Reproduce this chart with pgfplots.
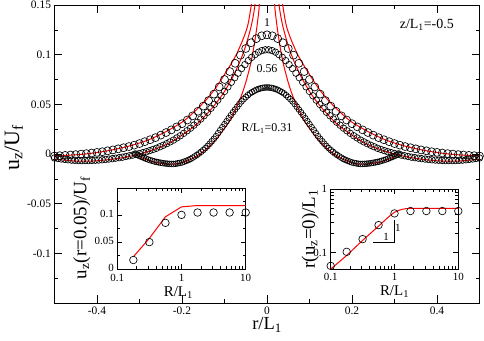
\documentclass[border=0pt]{standalone}
\usepackage{fontspec}
\setmainfont{Liberation Serif}
\usepackage{pgfplots}
\pgfplotsset{compat=1.18}

\pgfplotsset{
  common/.style={scale only axis, tick align=inside, tick pos=both,
    axis line style={line width=0.8pt}, tick style={line width=0.6pt, black},
    /pgf/number format/assume math mode=true, /pgf/number format/fixed,
    /pgf/number format/precision=3, scaled ticks=false},
  circ/.style={black, only marks, mark=o, mark options={line width=0.65pt}},
  theory/.style={red, line width=1pt, no marks},
}

\begin{document}
\begin{tikzpicture}
\useasboundingbox (-54.5bp,-38bp) rectangle (429.5bp,303bp);
% main panel
\begin{axis}[common, at={(0,0)}, anchor=south west, width=425bp, height=298bp,
  xmin=-0.5, xmax=0.5, ymin=-0.15, ymax=0.15,
  xtick={-0.4,-0.2,0,0.2,0.4}, minor xtick={-0.3,-0.1,0.1,0.3},
  ytick={-0.1,-0.05,0,0.05,0.1,0.15}, minor ytick={-0.125,-0.075,-0.025,0.025,0.075,0.125},
  major tick length=8bp, minor tick length=4bp,
  tick label style={font=\fontsize{11.5}{13}\selectfont},
  xlabel={r/L\textsubscript{1}}, ylabel={u\textsubscript{z}/U\textsubscript{f}},
  label style={inner sep=0pt},
  xlabel style={font=\fontsize{18.5}{20}\selectfont, at={(axis description cs:0.5,-0.09)}, anchor=base},
  ylabel style={font=\fontsize{22}{24}\selectfont, at={(axis description cs:-0.083,0.52)}, anchor=base},
]
% R/L1 = 1
\addplot[circ, mark size=4pt] table {
-0.5000 -0.0020
-0.4875 -0.0017
-0.4750 -0.0014
-0.4625 -0.0010
-0.4500 -0.0006
-0.4375 -0.0001
-0.4250 0.0004
-0.4125 0.0010
-0.4000 0.0016
-0.3875 0.0023
-0.3750 0.0032
-0.3625 0.0041
-0.3500 0.0052
-0.3375 0.0063
-0.3250 0.0075
-0.3125 0.0089
-0.3000 0.0105
-0.2875 0.0124
-0.2750 0.0144
-0.2625 0.0165
-0.2500 0.0190
-0.2375 0.0216
-0.2250 0.0243
-0.2125 0.0273
-0.2000 0.0305
-0.1875 0.0342
-0.1750 0.0384
-0.1625 0.0430
-0.1500 0.0482
-0.1375 0.0538
-0.1250 0.0603
-0.1125 0.0675
-0.1000 0.0750
-0.0875 0.0830
-0.0750 0.0913
-0.0625 0.0995
-0.0500 0.1062
-0.0375 0.1120
-0.0250 0.1162
-0.0125 0.1190
0.0000 0.1200
0.0125 0.1190
0.0250 0.1162
0.0375 0.1120
0.0500 0.1062
0.0625 0.0995
0.0750 0.0913
0.0875 0.0830
0.1000 0.0750
0.1125 0.0675
0.1250 0.0603
0.1375 0.0538
0.1500 0.0482
0.1625 0.0430
0.1750 0.0384
0.1875 0.0342
0.2000 0.0305
0.2125 0.0273
0.2250 0.0243
0.2375 0.0216
0.2500 0.0190
0.2625 0.0165
0.2750 0.0144
0.2875 0.0124
0.3000 0.0105
0.3125 0.0089
0.3250 0.0075
0.3375 0.0063
0.3500 0.0052
0.3625 0.0041
0.3750 0.0032
0.3875 0.0023
0.4000 0.0016
0.4125 0.0010
0.4250 0.0004
0.4375 -0.0001
0.4500 -0.0006
0.4625 -0.0010
0.4750 -0.0014
0.4875 -0.0017
0.5000 -0.0020
};
% R/L1 = 0.56
\addplot[circ, mark size=3.3pt] table {
-0.500 -0.0040
-0.492 -0.0045
-0.484 -0.0050
-0.476 -0.0054
-0.468 -0.0058
-0.460 -0.0062
-0.452 -0.0064
-0.444 -0.0066
-0.436 -0.0066
-0.428 -0.0066
-0.420 -0.0066
-0.412 -0.0065
-0.404 -0.0063
-0.396 -0.0061
-0.388 -0.0058
-0.380 -0.0055
-0.372 -0.0051
-0.364 -0.0047
-0.356 -0.0042
-0.348 -0.0037
-0.340 -0.0032
-0.332 -0.0025
-0.324 -0.0018
-0.316 -0.0011
-0.308 -0.0003
-0.300 0.0005
-0.292 0.0014
-0.284 0.0023
-0.276 0.0034
-0.268 0.0046
-0.260 0.0058
-0.252 0.0073
-0.244 0.0088
-0.236 0.0104
-0.228 0.0122
-0.220 0.0140
-0.212 0.0162
-0.204 0.0184
-0.196 0.0208
-0.188 0.0234
-0.180 0.0260
-0.172 0.0290
-0.164 0.0320
-0.156 0.0352
-0.148 0.0386
-0.140 0.0420
-0.132 0.0460
-0.124 0.0500
-0.116 0.0542
-0.108 0.0586
-0.100 0.0630
-0.092 0.0676
-0.084 0.0722
-0.076 0.0768
-0.068 0.0814
-0.060 0.0860
-0.052 0.0900
-0.044 0.0940
-0.036 0.0973
-0.028 0.1001
-0.020 0.1025
-0.012 0.1041
-0.004 0.1049
0.004 0.1049
0.012 0.1041
0.020 0.1025
0.028 0.1001
0.036 0.0973
0.044 0.0940
0.052 0.0900
0.060 0.0860
0.068 0.0814
0.076 0.0768
0.084 0.0722
0.092 0.0676
0.100 0.0630
0.108 0.0586
0.116 0.0542
0.124 0.0500
0.132 0.0460
0.140 0.0420
0.148 0.0386
0.156 0.0352
0.164 0.0320
0.172 0.0290
0.180 0.0260
0.188 0.0234
0.196 0.0208
0.204 0.0184
0.212 0.0162
0.220 0.0140
0.228 0.0122
0.236 0.0104
0.244 0.0088
0.252 0.0073
0.260 0.0058
0.268 0.0046
0.276 0.0034
0.284 0.0023
0.292 0.0014
0.300 0.0005
0.308 -0.0003
0.316 -0.0011
0.324 -0.0018
0.332 -0.0025
0.340 -0.0032
0.348 -0.0037
0.356 -0.0042
0.364 -0.0047
0.372 -0.0051
0.380 -0.0055
0.388 -0.0058
0.396 -0.0061
0.404 -0.0063
0.412 -0.0065
0.420 -0.0066
0.428 -0.0066
0.436 -0.0066
0.444 -0.0066
0.452 -0.0064
0.460 -0.0062
0.468 -0.0058
0.476 -0.0054
0.484 -0.0050
0.492 -0.0045
0.500 -0.0040
};
% R/L1 = 0.31
\addplot[circ, mark size=2.9pt] table {
-0.310 0.0005
-0.305 -0.0008
-0.300 -0.0020
-0.295 -0.0029
-0.290 -0.0038
-0.285 -0.0047
-0.280 -0.0055
-0.275 -0.0062
-0.270 -0.0068
-0.265 -0.0075
-0.260 -0.0080
-0.255 -0.0084
-0.250 -0.0088
-0.245 -0.0092
-0.240 -0.0095
-0.235 -0.0097
-0.230 -0.0099
-0.225 -0.0100
-0.220 -0.0100
-0.215 -0.0098
-0.210 -0.0094
-0.205 -0.0090
-0.200 -0.0085
-0.195 -0.0077
-0.190 -0.0069
-0.185 -0.0060
-0.180 -0.0050
-0.175 -0.0037
-0.170 -0.0024
-0.165 -0.0010
-0.160 0.0005
-0.155 0.0022
-0.150 0.0040
-0.145 0.0059
-0.140 0.0080
-0.135 0.0103
-0.130 0.0128
-0.125 0.0153
-0.120 0.0180
-0.115 0.0210
-0.110 0.0240
-0.105 0.0270
-0.100 0.0300
-0.095 0.0330
-0.090 0.0360
-0.085 0.0390
-0.080 0.0420
-0.075 0.0448
-0.070 0.0476
-0.065 0.0504
-0.060 0.0530
-0.055 0.0552
-0.050 0.0572
-0.045 0.0592
-0.040 0.0610
-0.035 0.0623
-0.030 0.0635
-0.025 0.0646
-0.020 0.0655
-0.015 0.0661
-0.010 0.0666
-0.005 0.0669
0.000 0.0670
0.005 0.0669
0.010 0.0666
0.015 0.0661
0.020 0.0655
0.025 0.0646
0.030 0.0635
0.035 0.0623
0.040 0.0610
0.045 0.0592
0.050 0.0572
0.055 0.0552
0.060 0.0530
0.065 0.0504
0.070 0.0476
0.075 0.0448
0.080 0.0420
0.085 0.0390
0.090 0.0360
0.095 0.0330
0.100 0.0300
0.105 0.0270
0.110 0.0240
0.115 0.0210
0.120 0.0180
0.125 0.0153
0.130 0.0128
0.135 0.0103
0.140 0.0080
0.145 0.0059
0.150 0.0040
0.155 0.0022
0.160 0.0005
0.165 -0.0010
0.170 -0.0024
0.175 -0.0037
0.180 -0.0050
0.185 -0.0060
0.190 -0.0069
0.195 -0.0077
0.200 -0.0085
0.205 -0.0090
0.210 -0.0094
0.215 -0.0098
0.220 -0.0100
0.225 -0.0100
0.230 -0.0099
0.235 -0.0097
0.240 -0.0095
0.245 -0.0092
0.250 -0.0088
0.255 -0.0084
0.260 -0.0080
0.265 -0.0075
0.270 -0.0068
0.275 -0.0062
0.280 -0.0055
0.285 -0.0047
0.290 -0.0038
0.295 -0.0029
0.300 -0.0020
0.305 -0.0008
0.310 0.0005
};
% theory curves, left and right branches
\addplot[theory, smooth] coordinates {(-0.5,-0.002) (-0.44,-0.0005) (-0.4,0.0015) (-0.36,0.0045) (-0.32,0.0085) (-0.28,0.014) (-0.24,0.022) (-0.2,0.032) (-0.18,0.039) (-0.16,0.047) (-0.14,0.056) (-0.12,0.067) (-0.1,0.08) (-0.08,0.094) (-0.07,0.102) (-0.055,0.117) (-0.045,0.13) (-0.037,0.15) (-0.03,0.175)};
\addplot[theory, smooth] coordinates {(0.5,-0.002) (0.44,-0.0005) (0.4,0.0015) (0.36,0.0045) (0.32,0.0085) (0.28,0.014) (0.24,0.022) (0.2,0.032) (0.18,0.039) (0.16,0.047) (0.14,0.056) (0.12,0.067) (0.1,0.08) (0.08,0.094) (0.07,0.102) (0.055,0.117) (0.045,0.13) (0.037,0.15) (0.03,0.175)};
\addplot[theory, smooth] coordinates {(-0.5,-0.005) (-0.48,-0.006) (-0.46,-0.0068) (-0.44,-0.0072) (-0.42,-0.0072) (-0.4,-0.0068) (-0.38,-0.006) (-0.36,-0.005) (-0.34,-0.0037) (-0.32,-0.002) (-0.3,0) (-0.28,0.0025) (-0.26,0.0055) (-0.24,0.009) (-0.22,0.0135) (-0.2,0.019) (-0.18,0.025) (-0.16,0.032) (-0.14,0.041) (-0.12,0.051) (-0.1,0.063) (-0.08,0.078) (-0.07,0.087) (-0.06,0.097) (-0.05,0.109) (-0.04,0.124) (-0.035,0.133) (-0.03,0.145) (-0.025,0.162) (-0.022,0.175)};
\addplot[theory, smooth] coordinates {(0.5,-0.005) (0.48,-0.006) (0.46,-0.0068) (0.44,-0.0072) (0.42,-0.0072) (0.4,-0.0068) (0.38,-0.006) (0.36,-0.005) (0.34,-0.0037) (0.32,-0.002) (0.3,0) (0.28,0.0025) (0.26,0.0055) (0.24,0.009) (0.22,0.0135) (0.2,0.019) (0.18,0.025) (0.16,0.032) (0.14,0.041) (0.12,0.051) (0.1,0.063) (0.08,0.078) (0.07,0.087) (0.06,0.097) (0.05,0.109) (0.04,0.124) (0.035,0.133) (0.03,0.145) (0.025,0.162) (0.022,0.175)};
\addplot[theory, smooth] coordinates {(-0.31,0.0002) (-0.3,-0.0028) (-0.28,-0.0062) (-0.26,-0.0086) (-0.24,-0.01) (-0.22,-0.0102) (-0.2,-0.0088) (-0.18,-0.0055) (-0.16,-0.0005) (-0.14,0.006) (-0.12,0.0145) (-0.11,0.02) (-0.1,0.026) (-0.09,0.032) (-0.08,0.04) (-0.07,0.049) (-0.06,0.059) (-0.05,0.072) (-0.04,0.088) (-0.035,0.098) (-0.03,0.11) (-0.025,0.124) (-0.02,0.141) (-0.018,0.15) (-0.015,0.165) (-0.013,0.18)};
\addplot[theory, smooth] coordinates {(0.31,0.0002) (0.3,-0.0028) (0.28,-0.0062) (0.26,-0.0086) (0.24,-0.01) (0.22,-0.0102) (0.2,-0.0088) (0.18,-0.0055) (0.16,-0.0005) (0.14,0.006) (0.12,0.0145) (0.11,0.02) (0.1,0.026) (0.09,0.032) (0.08,0.04) (0.07,0.049) (0.06,0.059) (0.05,0.072) (0.04,0.088) (0.035,0.098) (0.03,0.11) (0.025,0.124) (0.02,0.141) (0.018,0.15) (0.015,0.165) (0.013,0.18)};
\node[font=\fontsize{12}{14}\selectfont, fill=white, inner sep=0.5pt] at (axis cs:0,0.1325) {1};
\node[font=\fontsize{12}{14}\selectfont, fill=white, inner sep=0.5pt] at (axis cs:0,0.086) {0.56};
\node[font=\fontsize{12}{14}\selectfont, fill=white, inner sep=0.5pt] at (axis cs:0,0.026) {R/L\textsubscript{1}=0.31};
\node[font=\fontsize{14}{16}\selectfont] at (axis cs:0.376,0.130) {z/L\textsubscript{1}=-0.5};
\end{axis}

% left inset
\begin{axis}[common, at={(62.8bp,34bp)}, anchor=south west, width=128.4bp, height=80.7bp,
  axis background/.style={fill=white},
  xmode=log, xmin=0.1, xmax=10, ymin=0, ymax=0.15, log ticks with fixed point,
  ytick={0,0.05,0.1}, minor ytick={0.025,0.075,0.125},
  major tick length=5bp, minor tick length=3bp,
  tick label style={font=\fontsize{11}{12}\selectfont},
  xticklabel style={yshift=-2bp},
  yticklabel style={yshift=1bp},
  xlabel={R/L\textsubscript{1}}, ylabel={u\textsubscript{z}(r=0.05)/U\textsubscript{f}},
  label style={inner sep=0pt},
  xlabel style={font=\fontsize{15}{17}\selectfont, at={(axis description cs:0.475,-0.34)}, anchor=base},
  ylabel style={font=\fontsize{19}{21}\selectfont, at={(axis description cs:-0.24,0.51)}, anchor=base},
]
\addplot[theory] coordinates {(0.178,0.0228) (0.316,0.057) (0.562,0.097) (1,0.1155) (1.78,0.118) (3.16,0.118) (5.62,0.118) (10,0.118)};
\addplot[circ, mark size=3.8pt] coordinates {(0.178,0.0167) (0.316,0.050) (0.562,0.0858) (1,0.1006) (1.78,0.105) (3.16,0.105) (5.62,0.105) (10,0.105)};
\end{axis}

% right inset
\begin{axis}[common, at={(276.2bp,34bp)}, anchor=south west, width=127.6bp, height=80bp,
  axis background/.style={fill=white},
  xmode=log, ymode=log, xmin=0.1, xmax=10, ymin=0.055, ymax=1, log ticks with fixed point,
  ytick={0.1,1},
  major tick length=5bp, minor tick length=3bp,
  tick label style={font=\fontsize{11}{12}\selectfont},
  xticklabel style={yshift=-1bp},
  xlabel={R/L\textsubscript{1}}, ylabel={r(u\textsubscript{z}=0)/L\textsubscript{1}},
  label style={inner sep=0pt},
  xlabel style={font=\fontsize{15}{17}\selectfont, at={(axis description cs:0.5,-0.33)}, anchor=base},
  ylabel style={font=\fontsize{19}{21}\selectfont, at={(axis description cs:-0.125,0.5)}, anchor=base},
]
\addplot[theory, smooth] coordinates {(0.1,0.055) (0.178,0.09) (0.316,0.155) (0.562,0.26) (0.8,0.36) (1,0.43) (1.33,0.48) (1.78,0.495) (3.16,0.497) (5.62,0.497) (10,0.497)};
\addplot[circ, mark size=3.8pt] coordinates {(0.1,0.0616) (0.178,0.1025) (0.316,0.1625) (0.562,0.270) (1,0.413) (1.78,0.450) (3.16,0.450) (5.62,0.450) (10,0.450)};
\addplot[black, line width=0.6pt, no marks] coordinates {(0.46,0.147) (1.0,0.147) (1.0,0.32)};
\node[font=\fontsize{11}{12}\selectfont] at (axis cs:0.74,0.175) {1};
\node[font=\fontsize{11}{12}\selectfont] at (axis cs:1.13,0.245) {1};
\end{axis}
\end{tikzpicture}
\end{document}
